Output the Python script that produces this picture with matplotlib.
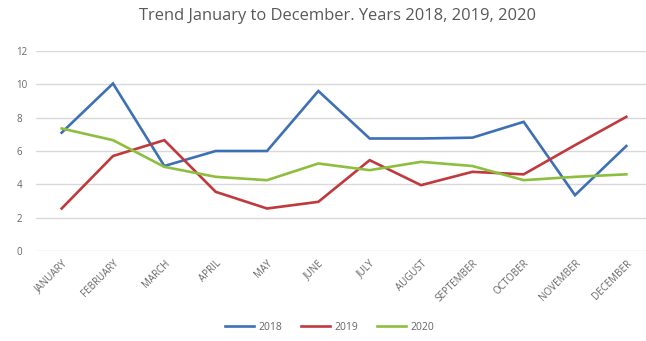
import matplotlib
matplotlib.use("Agg")
import matplotlib.pyplot as plt

months = ["JANUARY", "FEBRUARY", "MARCH", "APRIL", "MAY", "JUNE", "JULY",
          "AUGUST", "SEPTEMBER", "OCTOBER", "NOVEMBER", "DECEMBER"]
y2018 = [7.1, 10.05, 5.1, 6.0, 6.0, 9.6, 6.75, 6.75, 6.8, 7.75, 3.35, 6.3]
y2019 = [2.55, 5.7, 6.65, 3.55, 2.55, 2.95, 5.45, 3.95, 4.75, 4.6, 6.35, 8.05]
y2020 = [7.35, 6.65, 5.05, 4.45, 4.25, 5.25, 4.85, 5.35, 5.1, 4.25, 4.45, 4.6]
series = [("2018", y2018, "#3E70B6"), ("2019", y2019, "#C0393D"), ("2020", y2020, "#8DBF3F")]

plt.rcParams['font.family'] = ['Open Sans', 'DejaVu Sans']

fig = plt.figure(figsize=(6.46, 3.41), dpi=100)
ax = fig.add_axes([36 / 646, 90 / 341, 616 / 646, 200 / 341])

x = range(len(months))
for name, vals, col in series:
    ax.plot(x, vals, color=col, lw=1.9, label=name, solid_joinstyle='miter')

ax.set_xlim(-0.5, 11.5)
ax.set_ylim(0, 12)
ax.set_yticks(range(0, 13, 2))
ax.set_xticks(list(x))
ax.set_xticklabels(months, rotation=45, ha='right', rotation_mode='anchor',
                   fontsize=7, color='#666666')
ax.tick_params(axis='y', labelsize=7, colors='#666666', length=0, pad=14)
ax.tick_params(axis='x', length=0, pad=5)
for lbl in ax.get_yticklabels():
    lbl.set_horizontalalignment('left')
ax.grid(axis='y', color='#D9D9D9', lw=1)
ax.set_axisbelow(True)
for s in ax.spines.values():
    s.set_visible(False)

fig.text(0.522, 0.952, "Trend January to December. Years 2018, 2019, 2020",
         ha='center', va='center', fontsize=11.9, color='#595959')

fig.legend(loc='center', bbox_to_anchor=(0.51, 0.04), ncol=3, frameon=False,
           fontsize=7.5, handlelength=2.8, columnspacing=1.8, handletextpad=0.4,
           labelcolor='#666666')

fig.savefig("out.png", dpi=100)
